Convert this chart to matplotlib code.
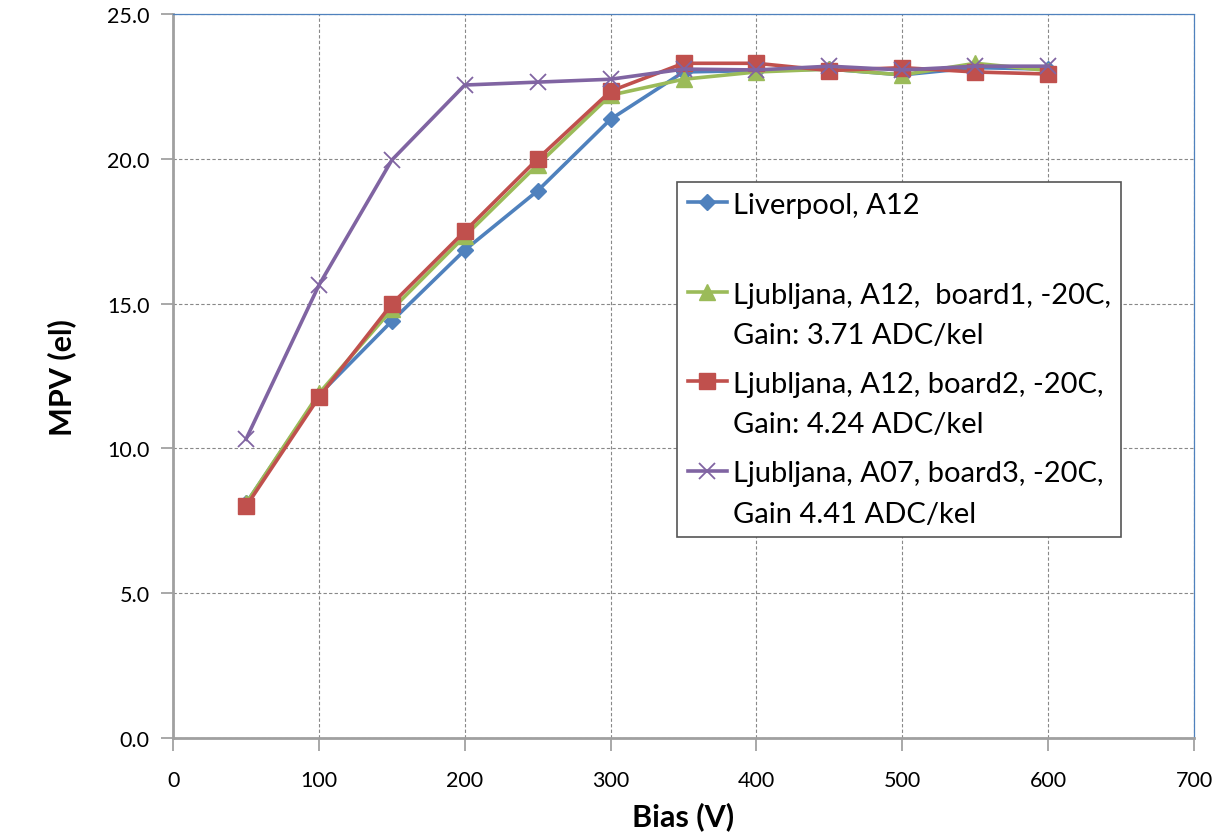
import numpy as np
import matplotlib
matplotlib.use("Agg")
import matplotlib.pyplot as plt

# Datos
bias = [50, 100, 150, 200, 250, 300, 350, 400, 450, 500, 550, 600]

mpv_liverpool = [8.1, 11.85, 14.4, 16.85, 18.9, 21.37, 23.0, 23.05, 23.1, 22.9, 23.15, 23.1]
mpv_board1 = [8.1, 11.9, 14.8, 17.33, 19.8, 22.2, 22.75, 23.0, 23.1, 22.9, 23.3, 23.05]
mpv_board2 = [8.0, 11.77, 14.99, 17.5, 20.0, 22.34, 23.3, 23.3, 23.05, 23.15, 23.0, 22.93]
mpv_board3 = [10.32, 15.64, 19.96, 22.55, 22.65, 22.75, 23.1, 23.07, 23.2, 23.07, 23.2, 23.2]

labels = ["Liverpool, A12\n ",
          "Ljubljana, A12,  board1, -20C,\nGain: 3.71 ADC/kel",
          "Ljubljana, A12, board2, -20C,\nGain: 4.24 ADC/kel",
          "Ljubljana, A07, board3, -20C,\nGain 4.41 ADC/kel"]

plt.rcParams['font.family'] = ['Lato', 'DejaVu Sans']

fig = plt.figure(figsize=(12.19, 8.37), dpi=100)
ax = fig.add_axes([0.142, 0.117, 0.8375, 0.865])

lw = 2.6
ax.plot(bias, mpv_liverpool, color="#4F81BD", lw=lw, marker="D", markersize=8, label=labels[0])
ax.plot(bias, mpv_board1, color="#9BBB59", lw=lw, marker="^", markersize=11, label=labels[1])
ax.plot(bias, mpv_board2, color="#C0504D", lw=lw, marker="s", markersize=11, label=labels[2])
ax.plot(bias, mpv_board3, color="#8064A2", lw=lw, marker="x", markersize=11, markeredgewidth=1.3, label=labels[3])

ax.set_xlim(0, 700)
ax.set_ylim(0, 25)
ax.set_xticks(np.arange(0, 701, 100))
ax.set_yticks(np.arange(0, 25.1, 5))
ax.set_yticklabels(["%.1f" % v for v in np.arange(0, 25.1, 5)])

ax.grid(True, color="#888888", linestyle=(0, (3, 2)), linewidth=0.8)
ax.tick_params(axis="both", labelsize=15.5, direction="out", length=9, color="#999999", width=1.2)
ax.tick_params(axis="x", pad=14)
ax.tick_params(axis="y", pad=8)

for s in ["left", "bottom"]:
    ax.spines[s].set_color("#A0A0A0")
    ax.spines[s].set_linewidth(2)
for s in ["top", "right"]:
    ax.spines[s].set_color("#4F81BD")
    ax.spines[s].set_linewidth(0.9)
    ax.spines[s].set_linestyle((0, (1, 1)))

ax.set_xlabel("Bias (V)", fontsize=22, fontweight="bold", labelpad=8)
ax.set_ylabel("MPV (el)", fontsize=22, fontweight="bold", labelpad=22)

leg = ax.legend(loc="upper left", bbox_to_anchor=(0.494, 0.768), fontsize=21,
                frameon=True, fancybox=False, edgecolor="#555555", framealpha=1,
                handlelength=1.35, handletextpad=0.2, labelspacing=0.8,
                borderpad=0.35, borderaxespad=0)
leg.get_frame().set_linewidth(1.2)
for t in leg.get_texts():
    t.set_linespacing(1.67)
# marcador alineado con la primera linea del texto
for col in leg._legend_handle_box.get_children():
    for item in col.get_children():
        item.align = "top"

plt.savefig("out.png", dpi=100)
